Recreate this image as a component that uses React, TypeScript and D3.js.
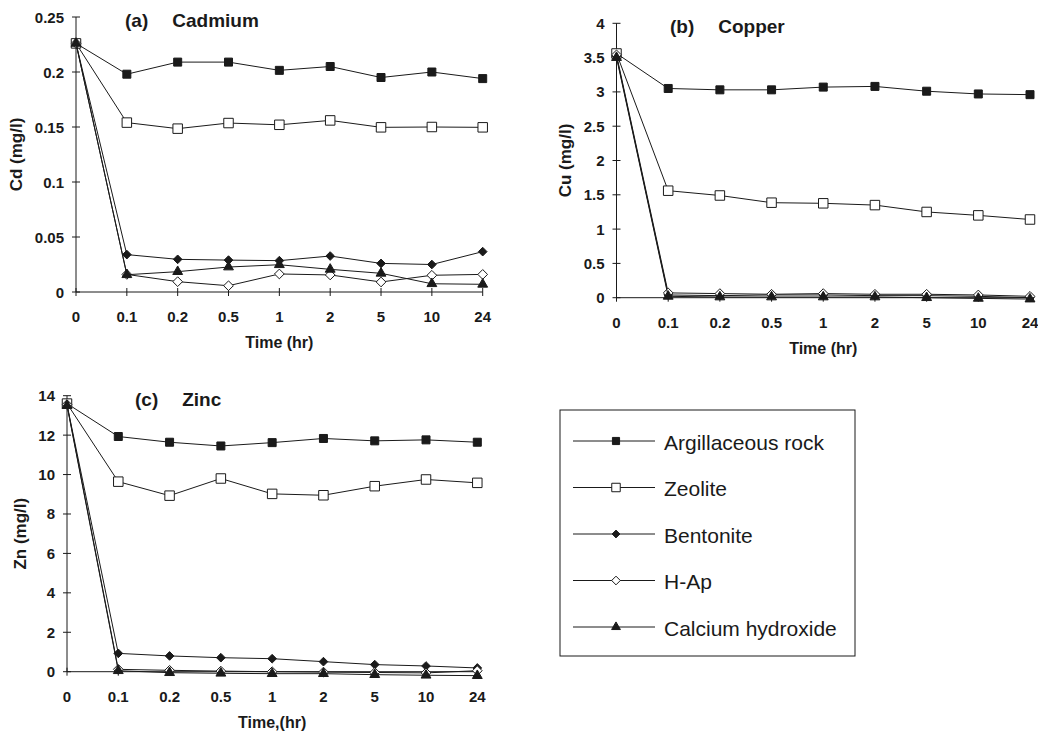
import * as d3 from "d3";

const TIMES = ["0", "0.1", "0.2", "0.5", "1", "2", "5", "10", "24"];

const SERIES_NAMES = ["Argillaceous rock", "Zeolite", "Bentonite", "H-Ap", "Calcium hydroxide"];

// Cadmium (mg/l)
const cdArgillaceous = [0.226, 0.198, 0.209, 0.209, 0.2015, 0.205, 0.195, 0.2, 0.194];
const cdZeolite = [0.226, 0.154, 0.1485, 0.1536, 0.152, 0.156, 0.1497, 0.15, 0.1497];
const cdBentonite = [0.226, 0.034, 0.0297, 0.029, 0.0285, 0.0327, 0.026, 0.025, 0.0367];
const cdHAp = [0.226, 0.016, 0.0094, 0.0057, 0.0164, 0.0155, 0.0091, 0.0152, 0.016];
const cdCaOH = [0.226, 0.0157, 0.0185, 0.0227, 0.0248, 0.0206, 0.017, 0.0075, 0.007];

// Copper (mg/l)
const cuArgillaceous = [3.56, 3.05, 3.03, 3.03, 3.07, 3.08, 3.01, 2.97, 2.96];
const cuZeolite = [3.56, 1.56, 1.49, 1.385, 1.376, 1.35, 1.25, 1.2, 1.14];
const cuBentonite = [3.52, 0.04, 0.03, 0.04, 0.04, 0.03, 0.03, 0.02, 0.0];
const cuHAp = [3.54, 0.07, 0.06, 0.05, 0.06, 0.05, 0.05, 0.04, 0.02];
const cuCaOH = [3.5, 0.02, 0.01, 0.01, 0.01, 0.01, 0.0, -0.01, -0.02];

// Zinc (mg/l)
const znArgillaceous = [13.6, 11.93, 11.64, 11.45, 11.62, 11.83, 11.71, 11.76, 11.64];
const znZeolite = [13.6, 9.64, 8.93, 9.8, 9.02, 8.95, 9.41, 9.75, 9.58];
const znBentonite = [13.55, 0.93, 0.8, 0.71, 0.66, 0.51, 0.36, 0.29, 0.19];
const znHAp = [13.55, 0.12, 0.07, 0.03, 0.0, -0.02, -0.04, -0.06, 0.05];
const znCaOH = [13.5, 0.05, -0.05, -0.08, -0.1, -0.1, -0.15, -0.18, -0.2];

const cdTicks = [0, 0.05, 0.1, 0.15, 0.2, 0.25];
const cuTicks = [0, 0.5, 1, 1.5, 2, 2.5, 3, 3.5, 4];
const znTicks = [0, 2, 4, 6, 8, 10, 12, 14];

const INK = "#1a1a1a";
const FONT = "'Liberation Sans', Arial, sans-serif";

// marker look per series (same order as SERIES_NAMES)
const MARKERS = [
  { type: d3.symbolSquare, size: 64, fill: INK },
  { type: d3.symbolSquare, size: 90, fill: "white" },
  { type: d3.symbolDiamond2, size: 48, fill: INK },
  { type: d3.symbolDiamond2, size: 60, fill: "white" },
  { type: d3.symbolTriangle, size: 42, fill: INK },
];

type PanelProps = {
  left: number;
  right: number;
  top: number;
  bottom: number;
  yMax: number;
  ticks: number[];
  series: number[][];
  label: string;
  name: string;
  titleX: number;
  yTitle: string;
  yTitleX: number;
  xTitle: string;
};

const Panel = (p: PanelProps) => {
  const xScale = d3.scalePoint().domain(TIMES).range([p.left, p.right]);
  const yScale = d3.scaleLinear().domain([0, p.yMax]).range([p.bottom, p.top]);

  const line = d3
    .line<number>()
    .x((_, i) => xScale(TIMES[i]) ?? 0)
    .y((d) => yScale(d));

  const midX = (p.left + p.right) / 2;

  return (
    <g>
      {/* axes */}
      <line x1={p.left} x2={p.left} y1={p.bottom} y2={p.top} stroke={INK} strokeWidth={1} />
      <line x1={p.left} x2={p.right} y1={p.bottom} y2={p.bottom} stroke={INK} strokeWidth={1} />
      {p.ticks.map((t) => (
        <g key={t}>
          <line x1={p.left - 4} x2={p.left + 4} y1={yScale(t)} y2={yScale(t)} stroke={INK} />
          <text
            x={p.left - 12}
            y={yScale(t)}
            textAnchor="end"
            dominantBaseline="central"
            fontFamily={FONT}
            fontWeight="bold"
            fontSize={15}
            fill={INK}
          >
            {String(+t.toFixed(2))}
          </text>
        </g>
      ))}
      {TIMES.map((t) => (
        <g key={t}>
          <line
            x1={xScale(t)}
            x2={xScale(t)}
            y1={p.bottom - 4}
            y2={p.bottom + 4}
            stroke={INK}
          />
          <text
            x={xScale(t)}
            y={p.bottom + 30}
            textAnchor="middle"
            fontFamily={FONT}
            fontWeight="bold"
            fontSize={15}
            fill={INK}
          >
            {t}
          </text>
        </g>
      ))}
      <text
        x={midX}
        y={p.bottom + 56}
        textAnchor="middle"
        fontFamily={FONT}
        fontWeight="bold"
        fontSize={16}
        fill={INK}
      >
        {p.xTitle}
      </text>
      <text
        transform={`translate(${p.yTitleX},${(p.top + p.bottom) / 2}) rotate(-90)`}
        textAnchor="middle"
        dominantBaseline="central"
        fontFamily={FONT}
        fontWeight="bold"
        fontSize={17}
        fill={INK}
      >
        {p.yTitle}
      </text>
      <text
        x={p.titleX}
        y={p.top + 10}
        fontFamily={FONT}
        fontWeight="bold"
        fontSize={19}
        fill={INK}
      >
        {p.label}
        <tspan dx={24}>{p.name}</tspan>
      </text>

      {/* series */}
      {p.series.map((values, si) => {
        const m = MARKERS[si];
        const path = d3.symbol().type(m.type).size(m.size)() ?? "";
        return (
          <g key={si}>
            <path d={line(values) ?? ""} fill="none" stroke={INK} strokeWidth={1} />
            {values.map((v, i) => (
              <path
                key={i}
                d={path}
                transform={`translate(${xScale(TIMES[i])},${yScale(v)})`}
                fill={m.fill}
                stroke={INK}
                strokeWidth={1}
              />
            ))}
          </g>
        );
      })}
    </g>
  );
};

const Legend = ({ x, y, width, height }: { x: number; y: number; width: number; height: number }) => {
  const rowScale = d3.scalePoint().domain(SERIES_NAMES).range([y + 31, y + 217]);
  return (
    <g>
      <rect x={x} y={y} width={width} height={height} fill="white" stroke={INK} strokeWidth={1} />
      {SERIES_NAMES.map((name, i) => {
        const ry = rowScale(name) ?? 0;
        const m = MARKERS[i];
        const path = d3.symbol().type(m.type).size(m.size * 0.8)() ?? "";
        return (
          <g key={name}>
            <line x1={x + 13} x2={x + 95} y1={ry} y2={ry} stroke={INK} strokeWidth={1} />
            <path
              d={path}
              transform={`translate(${x + 56},${ry})`}
              fill={m.fill}
              stroke={INK}
              strokeWidth={1}
            />
            <text
              x={x + 104}
              y={ry + 1}
              dominantBaseline="central"
              fontFamily={FONT}
              fontSize={21}
              fill={INK}
            >
              {name}
            </text>
          </g>
        );
      })}
    </g>
  );
};

export default function App() {
  return (
    <svg
      width={1038}
      height={734}
      style={{ position: "absolute", left: 0, top: 0, background: "white" }}
    >
      <Panel
        left={76}
        right={482.7}
        top={17}
        bottom={292}
        yMax={0.25}
        ticks={cdTicks}
        series={[cdArgillaceous, cdZeolite, cdBentonite, cdHAp, cdCaOH]}
        label="(a)"
        name="Cadmium"
        titleX={125}
        yTitle="Cd (mg/l)"
        yTitleX={16}
        xTitle="Time (hr)"
      />
      <Panel
        left={616.5}
        right={1030}
        top={23.3}
        bottom={297.7}
        yMax={4}
        ticks={cuTicks}
        series={[cuArgillaceous, cuZeolite, cuBentonite, cuHAp, cuCaOH]}
        label="(b)"
        name="Copper"
        titleX={670}
        yTitle="Cu (mg/l)"
        yTitleX={565}
        xTitle="Time (hr)"
      />
      <Panel
        left={67}
        right={477.3}
        top={395.7}
        bottom={671.7}
        yMax={14}
        ticks={znTicks}
        series={[znArgillaceous, znZeolite, znBentonite, znHAp, znCaOH]}
        label="(c)"
        name="Zinc"
        titleX={135}
        yTitle="Zn (mg/l)"
        yTitleX={20}
        xTitle="Time,(hr)"
      />
      <Legend x={560} y={410} width={295} height={246} />
    </svg>
  );
}
